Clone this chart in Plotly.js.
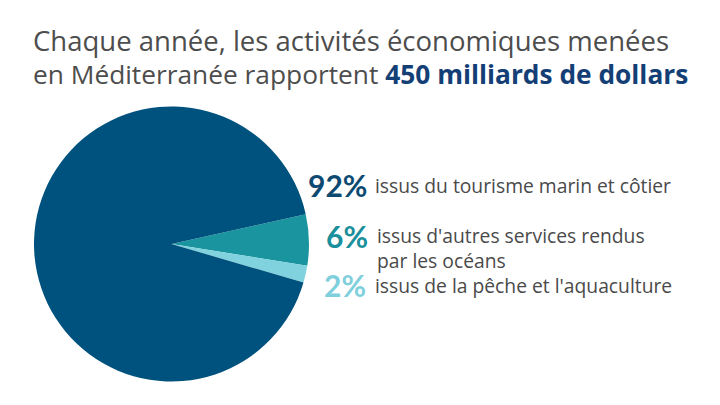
<!DOCTYPE html>
<html>
<head>
<meta charset="utf-8">
<script src="https://cdn.plot.ly/plotly-3.0.1.min.js"></script>
<style>html,body{margin:0;padding:0;background:#fff;}#chart{width:720px;height:405px;}</style>
</head>
<body>
<div id="chart"></div>
<script>
// Data
const categories = ["issus d'autres services rendus<br>par les océans", "issus de la pêche et l'aquaculture", "issus du tourisme marin et côtier"];
const values = [6, 2, 92];
const percentLabels = ["6%", "2%", "92%"];
const sliceColors = ["#1a95a0", "#7fd2de", "#00527e"];
const labelColors = ["#1b8f9c", "#7fd0dc", "#0c4a72"];
const titleLine1 = "Chaque année, les activités économiques menées";
const titleLine2a = "en Méditerranée rapportent ";
const titleLine2b = "450 milliards de dollars";

const W = 720, H = 405;
const px = x => x / W;
const py = y => 1 - y / H;

const FONT = "'Open Sans', sans-serif";
const PFONT = "Lato, 'Open Sans', sans-serif";

// label positions (pixel) for each category in order
const labelPos = [
  {pctX: 370, textX: 375, y: 236},
  {pctX: 368, textX: 373, y: 285},
  {pctX: 369, textX: 373, y: 185}
];

const annotations = [];
categories.forEach((c, i) => {
  annotations.push({
    xref: 'paper', yref: 'paper', x: px(labelPos[i].pctX), y: py(labelPos[i].y),
    xanchor: 'right', yanchor: 'middle', showarrow: false,
    text: '<b>' + percentLabels[i] + '</b>',
    font: {family: PFONT, size: 30, color: labelColors[i]}
  });
  annotations.push({
    xref: 'paper', yref: 'paper', x: px(labelPos[i].textX), y: py(labelPos[i].y + (c.includes('<br>') ? 12 : 0)),
    xanchor: 'left', yanchor: 'middle', align: 'left', showarrow: false,
    text: c,
    font: {family: FONT, size: 19.3, color: '#4a4a4a'}
  });
});

annotations.push({
  xref: 'paper', yref: 'paper', x: px(31), y: py(56.5),
  xanchor: 'left', yanchor: 'middle', align: 'left', showarrow: false,
  text: '<span style="font-size:27.5px">' + titleLine1 + '</span><br>' +
        '<span style="font-size:26.3px">' + titleLine2a + '<span style="color:#143f76"><b>' + titleLine2b + '</b></span></span>',
  font: {family: FONT, size: 25.4, color: '#4d4d4d'}
});

const data = [{
  type: 'pie',
  values: values,
  labels: categories,
  sort: false,
  direction: 'clockwise',
  rotation: 77.5,
  textinfo: 'none',
  hoverinfo: 'label+percent',
  marker: {colors: sliceColors, line: {width: 0}},
  domain: {x: [px(34), px(309)], y: [py(381.5), py(106.5)]},
  showlegend: false
}];

const layout = {
  width: W, height: H,
  margin: {l: 0, r: 0, t: 0, b: 0},
  paper_bgcolor: '#ffffff',
  showlegend: false,
  annotations: annotations
};

Plotly.newPlot('chart', data, layout, {displayModeBar: false, staticPlot: true});
</script>
</body>
</html>
